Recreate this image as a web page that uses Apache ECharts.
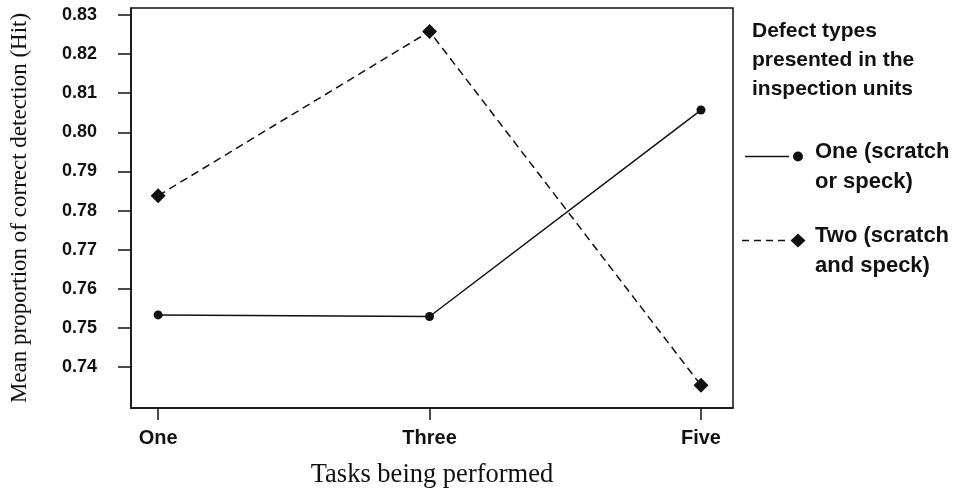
<!DOCTYPE html>
<html>
<head>
<meta charset="utf-8">
<script src="https://cdn.jsdelivr.net/npm/echarts@6/dist/echarts.min.js"></script>
<style>
  html, body { margin: 0; padding: 0; background: #fff; }
  #chart { width: 957px; height: 496px; }
</style>
</head>
<body>
<div id="chart"></div>
<script>
// categories on the x axis
const tasks = ['One', 'Three', 'Five']
// y ticks
const yTicks = [0.74, 0.75, 0.76, 0.77, 0.78, 0.79, 0.80, 0.81, 0.82, 0.83]
// mean Hit per defect type
const oneDefect = [0.7533, 0.7529, 0.8057]
const twoDefect = [0.7838, 0.8258, 0.7353]

const sans = '"Liberation Sans", Arial, sans-serif'
const serif = '"Liberation Serif", "Times New Roman", serif'

// legend icons: line sample, marker at its right end, placed near the top of a 68x36 box
// (the tiny corner triangles only fix the bounds of the path)
const corners = 'M0,0 L0.01,0 L0,0.01 Z M68,36 L67.99,36 L68,35.99 Z '
const circleIcon = 'path://' + corners +
  'M3,6.7 L47,6.7 L47,8.3 L3,8.3 Z M51,7.5 A5,5 0 1,0 61,7.5 A5,5 0 1,0 51,7.5 Z'
const diamondIcon = 'path://' + corners +
  'M0,6.7 L7,6.7 L7,8.3 L0,8.3 Z M12,6.7 L19,6.7 L19,8.3 L12,8.3 Z ' +
  'M24,6.7 L31,6.7 L31,8.3 L24,8.3 Z M36,6.7 L43,6.7 L43,8.3 L36,8.3 Z ' +
  'M48.5,7.5 L56,0.5 L63.5,7.5 L56,14.5 Z'

let chart = echarts.init(document.getElementById('chart'))

const option = {
  animation: false,
  title: {
    text: 'Defect types\npresented in the\ninspection units',
    left: 747,
    top: 12,
    textStyle: { fontFamily: sans, fontWeight: 'bold', fontSize: 21, lineHeight: 29, color: '#111' }
  },
  legend: {
    orient: 'vertical',
    left: 742,
    top: 137,
    padding: 0,
    itemWidth: 68,
    itemHeight: 36,
    itemGap: 24,
    textStyle: { fontFamily: sans, fontWeight: 'bold', fontSize: 22, lineHeight: 30, color: '#111' },
    data: [
      { name: 'One (scratch\nor speck)', icon: circleIcon },
      { name: 'Two (scratch\nand speck)', icon: diamondIcon }
    ]
  },
  grid: {
    left: 131,
    right: 224,
    top: 8,
    bottom: 88,
    show: true,
    borderColor: '#111',
    borderWidth: 1.5
  },
  xAxis: {
    type: 'value',
    min: -0.1,
    max: 2.118,
    name: 'Tasks being performed',
    nameLocation: 'middle',
    nameGap: 54,
    nameTextStyle: { fontFamily: serif, fontSize: 26.5, color: '#111' },
    splitLine: { show: false },
    axisLine: { onZero: false, lineStyle: { color: '#111', width: 1.5 } },
    axisTick: { length: 12, lineStyle: { color: '#111', width: 1.5 }, customValues: [0, 1, 2] },
    axisLabel: {
      customValues: [0, 1, 2],
      margin: 20,
      fontFamily: sans, fontWeight: 'bold', fontSize: 20, color: '#111',
      formatter: v => tasks[Math.round(v)]
    }
  },
  yAxis: {
    type: 'value',
    min: 0.7295,
    max: 0.8318,
    name: 'Mean proportion of correct detection (Hit)',
    nameLocation: 'middle',
    nameGap: 100,
    nameTextStyle: { fontFamily: serif, fontSize: 23, color: '#111' },
    splitLine: { show: false },
    axisLine: { onZero: false, lineStyle: { color: '#111', width: 1.5 } },
    axisTick: { length: 13, lineStyle: { color: '#111', width: 1.5 }, customValues: yTicks },
    axisLabel: {
      customValues: yTicks,
      margin: 34,
      fontFamily: sans, fontWeight: 'bold', fontSize: 18, color: '#111',
      formatter: v => v.toFixed(2)
    }
  },
  series: [
    {
      name: 'One (scratch\nor speck)',
      type: 'line',
      data: tasks.map((t, i) => [i, oneDefect[i]]),
      symbol: 'circle',
      symbolSize: 9,
      itemStyle: { color: '#111' },
      lineStyle: { color: '#111', width: 1.5 }
    },
    {
      name: 'Two (scratch\nand speck)',
      type: 'line',
      data: tasks.map((t, i) => [i, twoDefect[i]]),
      symbol: 'diamond',
      symbolSize: 15,
      itemStyle: { color: '#111' },
      lineStyle: { color: '#111', width: 1.5, type: [8, 5] }
    }
  ]
}

chart.setOption(option)
</script>
</body>
</html>
